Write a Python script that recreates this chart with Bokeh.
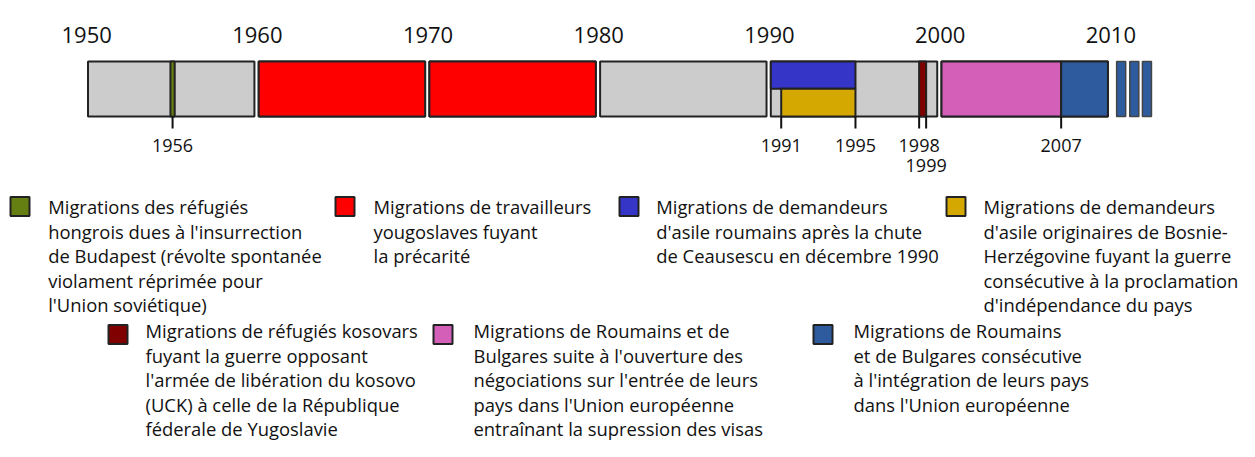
from bokeh.plotting import figure
from bokeh.models import Range1d
from bokeh.embed import file_html
from bokeh.resources import INLINE
from bokeh.core.properties import value

# ------------------------------------------------------------------ data
decade_starts = [1950, 1960, 1970, 1980, 1990, 2000]
year_ticks = [1950, 1960, 1970, 1980, 1990, 2000, 2010]
year_labels = ["1950", "1960", "1970", "1980", "1990", "2000", "2010"]

episode_keys = ["hongrois", "yougoslaves", "roumains_asile", "bosnie",
                "kosovars", "roumains_nego", "roumains_ue"]
episode_start = [1954.83, 1960, 1990, 1990.61, 1998.69, 2000, 2007.01]
episode_end = [1955.08, 1980, 1994.96, 1994.96, 1999.10, 2007.01, 2010]
episode_band = ["full", "full", "top", "bottom", "full", "full", "full"]

continuation_start = [2010.26, 2011.03, 2011.77]

marker_labels = ["1956", "1991", "1995", "1998", "1999", "2007"]
marker_pos = [1954.955, 1990.61, 1994.96, 1998.69, 1999.10, 2007.01]
marker_row = [0, 0, 0, 0, 1, 0]

legend_hongrois = ["Migrations des réfugiés", "hongrois dues à l'insurrection",
                   "de Budapest (révolte spontanée", "violament réprimée pour",
                   "l'Union soviétique)"]
legend_yougoslaves = ["Migrations de travailleurs", "yougoslaves fuyant", "la précarité"]
legend_roumains_asile = ["Migrations de demandeurs", "d'asile roumains après la chute",
                         "de Ceausescu en décembre 1990"]
legend_bosnie = ["Migrations de demandeurs", "d'asile originaires de Bosnie-",
                 "Herzégovine fuyant la guerre", "consécutive à la proclamation",
                 "d'indépendance du pays"]
legend_kosovars = ["Migrations de réfugiés kosovars", "fuyant la guerre opposant",
                   "l'armée de libération du kosovo", "(UCK) à celle de la République",
                   "féderale de Yugoslavie"]
legend_roumains_nego = ["Migrations de Roumains et de", "Bulgares suite à l'ouverture des",
                        "négociations sur l'entrée de leurs", "pays dans l'Union européenne",
                        "entraînant la supression des visas"]
legend_roumains_ue = ["Migrations de Roumains", "et de Bulgares consécutive",
                      "à l'intégration de leurs pays", "dans l'Union européenne"]
legend_texts = [legend_hongrois, legend_yougoslaves, legend_roumains_asile, legend_bosnie,
                legend_kosovars, legend_roumains_nego, legend_roumains_ue]

# ---------------------------------------------------------------- styles
colors = {
    "hongrois": "#657f12",
    "yougoslaves": "#ff0000",
    "roumains_asile": "#3535c8",
    "bosnie": "#d4a800",
    "kosovars": "#800000",
    "roumains_nego": "#d35fb8",
    "roumains_ue": "#2e5b9e",
}
GREY = "#cccccc"
EDGE = "#222222"
TXT = "#111111"
FONT = value("Open Sans")

# ---------------------------------------------------------------- layout
W, H = 1239, 441
PX_PER_YEAR = 17.07
X0_PX = 87.5                      # pixel position of 1950
X_START = 1950 - X0_PX / PX_PER_YEAR
DECADE_SPAN = 9.75
BAR_TOP, BAR_MID, BAR_BOT = 61, 88.3, 116
TICK_END = 128
CONT_W = 0.53
band_y = {"full": (BAR_TOP, BAR_BOT), "top": (BAR_TOP, BAR_MID), "bottom": (BAR_MID, BAR_BOT)}

legend_sq_x = [10, 335, 619, 946, 108, 433, 813]
legend_txt_x = [47.7, 373, 655.7, 983, 145, 473, 853]
legend_base_y = [206, 206, 206, 206, 330, 330, 330]
legend_sq_y = [206, 206, 206, 206, 334, 334, 334]
LINE_H = 24.5
SQ = 19

p = figure(width=W, height=H, output_backend="svg", toolbar_location=None,
           x_range=Range1d(X_START, X_START + W / PX_PER_YEAR), y_range=Range1d(H, 0),
           min_border=0, outline_line_color=None)
p.extra_x_ranges = {"px": Range1d(0, W)}
p.axis.visible = False
p.xgrid.visible = False
p.ygrid.visible = False
p.background_fill_color = "white"
p.border_fill_color = "white"

# decade boxes
p.quad(left=decade_starts, right=[d + DECADE_SPAN for d in decade_starts],
       top=BAR_TOP, bottom=BAR_BOT, fill_color=GREY,
       line_color=EDGE, line_width=2)

# episodes clipped to decade boxes
ql, qr, qt, qb, qc = [], [], [], [], []
for k, s, e, b in zip(episode_keys, episode_start, episode_end, episode_band):
    for d in decade_starts:
        l, r = max(s, d), min(e, d + DECADE_SPAN)
        if r > l:
            ql.append(l); qr.append(r)
            qt.append(band_y[b][0]); qb.append(band_y[b][1])
            qc.append(colors[k])
p.quad(left=ql, right=qr, top=qt, bottom=qb, fill_color=qc,
       line_color=EDGE, line_width=2)

# continuation blocks
p.quad(left=continuation_start, right=[c + CONT_W for c in continuation_start],
       top=BAR_TOP, bottom=BAR_BOT, fill_color=colors["roumains_ue"],
       line_color="#444444", line_width=1.5)

# marker ticks & labels
p.segment(x0=marker_pos, y0=BAR_BOT, x1=marker_pos, y1=TICK_END,
          line_color=TXT, line_width=2)
p.text(x=marker_pos, y=[145 + 20 * r for r in marker_row], text=marker_labels,
       text_align="center", text_baseline="alphabetic",
       text_font=FONT, text_font_size="18px", text_color=TXT)

# decade labels
p.text(x=[t - 0.08 for t in year_ticks], y=34, text=year_labels,
       text_align="center", text_baseline="alphabetic",
       text_font=FONT, text_font_size="22px", text_color=TXT)

# legend
p.quad(left=legend_sq_x, right=[x + SQ for x in legend_sq_x],
       top=[y - SQ / 2 for y in legend_sq_y], bottom=[y + SQ / 2 for y in legend_sq_y],
       fill_color=[colors[k] for k in episode_keys], line_color=EDGE, line_width=2,
       x_range_name="px")
tx, ty, tt = [], [], []
for lines, x, y in zip(legend_texts, legend_txt_x, legend_base_y):
    for i, line in enumerate(lines):
        tx.append(x); ty.append(y + i * LINE_H); tt.append(line)
p.text(x=tx, y=ty, text=tt, text_align="left", text_baseline="alphabetic",
       text_font=FONT, text_font_size="18.4px", text_color=TXT, x_range_name="px")

open("out.html", "w").write(file_html(p, INLINE))
